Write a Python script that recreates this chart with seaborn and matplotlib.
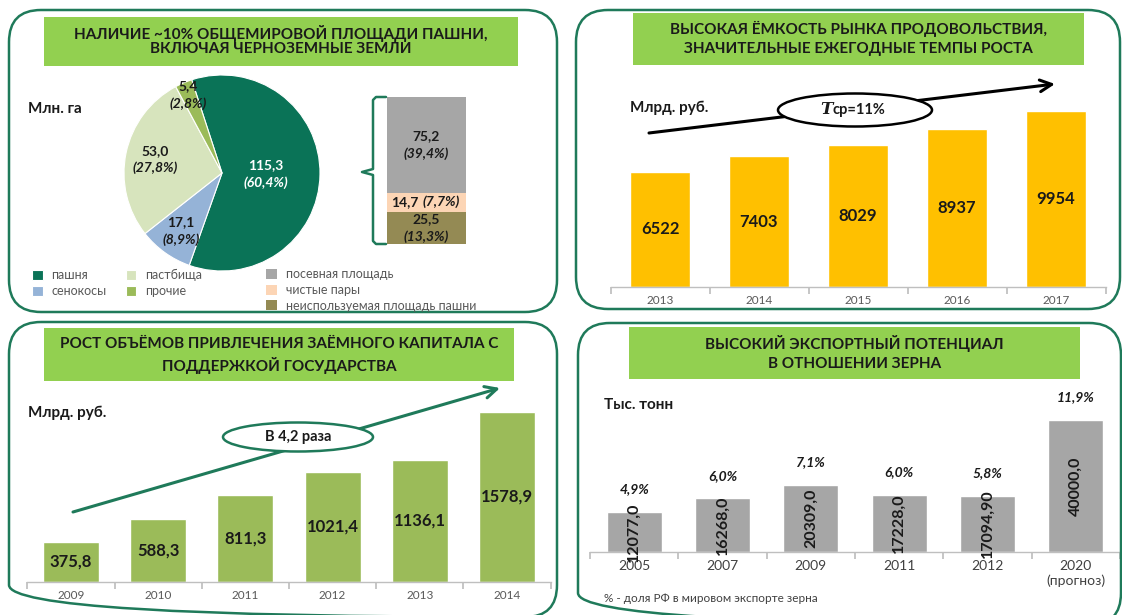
import numpy as np
import pandas as pd
import seaborn as sns
import matplotlib.pyplot as plt
from matplotlib.patches import FancyBboxPatch, Ellipse, Rectangle

# ---- data ----
land_labels = ['пашня', 'сенокосы', 'пастбища', 'прочие']
land_values = [115.3, 17.1, 53.0, 5.4]
land_pct = [60.4, 8.9, 27.8, 2.8]

arable_labels = ['неиспользуемая площадь пашни', 'чистые пары', 'посевная площадь']
arable_values = [25.5, 14.7, 75.2]
arable_pct = [13.3, 7.7, 39.4]

food_years = ['2013', '2014', '2015', '2016', '2017']
food_values = [6522, 7403, 8029, 8937, 9954]

credit_years = ['2009', '2010', '2011', '2012', '2013', '2014']
credit_values = [375.8, 588.3, 811.3, 1021.4, 1136.1, 1578.9]

grain_years = ['2005', '2007', '2009', '2011', '2012', '2020\n(прогноз)']
grain_values = [12077.0, 16268.0, 20309.0, 17228.0, 17094.9, 40000.0]
grain_labels = ['12077,0', '16268,0', '20309,0', '17228,0', '17094,90', '40000,0']
grain_share = [4.9, 6.0, 7.1, 6.0, 5.8, 11.9]

GREEN = '#1f7a5a'
TITLE_BG = '#92d050'
DARK = '#1a1a1a'
GREY_TXT = '#595959'

sns.set_theme(style='white')
plt.rcParams['font.family'] = ['Lato', 'DejaVu Sans']

W, H = 1122, 615
fig = plt.figure(figsize=(W / 100, H / 100), dpi=100)


def px_axes(x0, y0, x1, y1, **kw):
    return fig.add_axes([x0 / W, 1 - y1 / H, (x1 - x0) / W, (y1 - y0) / H], **kw)


def ru(v, d=1):
    return f'{v:.{d}f}'.replace('.', ',')


def bar_panel(box, cats, vals, color, ymax, width, tick_fs, tick_color):
    ax = px_axes(*box)
    df = pd.DataFrame({'cat': cats, 'val': vals})
    sns.barplot(data=df, x='cat', y='val', color=color, saturation=1,
                width=width, errorbar=None, ax=ax)
    ax.set_facecolor('none')
    ax.set_ylim(0, ymax)
    ax.set_xlim(-0.5, len(cats) - 0.5)
    for s in ['left', 'top', 'right']:
        ax.spines[s].set_visible(False)
    ax.spines['bottom'].set_color('#bfbfbf')
    ax.spines['bottom'].set_linewidth(1)
    ax.set_yticks([])
    ax.set_xticks(np.arange(-0.5, len(cats), 1))
    ax.set_xticklabels([])
    ax.set_xticks(range(len(cats)), minor=True)
    ax.set_xticklabels(cats, minor=True, fontsize=tick_fs, color=tick_color)
    ax.tick_params(axis='x', which='major', length=5, color='#bfbfbf', bottom=True)
    ax.tick_params(axis='x', which='minor', length=0, pad=6)
    ax.set_xlabel('')
    ax.set_ylabel('')
    return ax


# ---- top-right: food market ----
ax2 = bar_panel((610.5, 95, 1105.5, 287), food_years, food_values, '#ffc000',
                10860, 0.6, 8.5, GREY_TXT)
ax2.bar_label(ax2.containers[0], labels=[str(v) for v in food_values],
              label_type='center', fontsize=12, fontweight='bold', color=DARK)

# ---- bottom-left: credit ----
ax3 = bar_panel((27.4, 400, 550.6, 582), credit_years, credit_values, '#9bbb59',
                1690, 0.64, 8.5, GREY_TXT)
ax3.bar_label(ax3.containers[0], labels=[ru(v) for v in credit_values],
              label_type='center', fontsize=12, fontweight='bold', color=DARK)

# ---- bottom-right: grain export ----
ax4 = bar_panel((590, 400, 1120, 552), grain_years, grain_values, '#a6a6a6',
                46060, 0.62, 10, '#404040')
ax4.bar_label(ax4.containers[0], labels=grain_labels, label_type='center',
              rotation=90, fontsize=11.5, fontweight='bold', color=DARK)
ax4.bar_label(ax4.containers[0], labels=[ru(p) + '%' for p in grain_share],
              padding=12, fontsize=10, fontweight='bold', fontstyle='italic',
              color=DARK)

# ---- top-left: pie + stacked bar ----
land_colors = ['#0a7357', '#95b3d7', '#d7e4bd', '#9bbb59']
pie_ax = px_axes(124, 75, 320, 271)
wedges, _ = pie_ax.pie(land_values, colors=land_colors, startangle=108,
                       counterclock=False,
                       wedgeprops=dict(edgecolor='white', linewidth=0.8))
pie_ax.set_xlim(-1, 1)
pie_ax.set_ylim(-1, 1)
label_r = [0.45, 0.72, 0.7, 0.87]
label_c = ['white', DARK, DARK, DARK]
for w, v, p, r, c in zip(wedges, land_values, land_pct, label_r, label_c):
    ang = np.deg2rad((w.theta1 + w.theta2) / 2)
    xy = (r * np.cos(ang), r * np.sin(ang))
    pie_ax.annotate(ru(v), xy, xytext=(0, 6), textcoords='offset points',
                    ha='center', va='center', fontsize=10, fontweight='bold', color=c)
    pie_ax.annotate(f'({ru(p)}%)', xy, xytext=(0, -6.5), textcoords='offset points',
                    ha='center', va='center', fontsize=10, fontweight='bold',
                    fontstyle='italic', color=c)

arable_colors = ['#948a54', '#fcd5b5', '#a6a6a6']
st_ax = px_axes(387, 97, 466, 244)
bottom = 0
st_handles = []
for v, p, c in zip(arable_values, arable_pct, arable_colors):
    cont = st_ax.bar([0], [v], bottom=bottom, width=1, color=c, linewidth=0)
    st_handles.append(cont.patches[0])
    mid = bottom + v / 2
    if v > 20:
        st_ax.annotate(ru(v), (0, mid), xytext=(0, 6), textcoords='offset points',
                       ha='center', va='center', fontsize=10, fontweight='bold', color=DARK)
        st_ax.annotate(f'({ru(p)}%)', (0, mid), xytext=(0, -6.5), textcoords='offset points',
                       ha='center', va='center', fontsize=10, fontweight='bold',
                       fontstyle='italic', color=DARK)
    else:
        st_ax.annotate(ru(v), (0, mid), xytext=(-6, 0), textcoords='offset points',
                       ha='right', va='center', fontsize=10, fontweight='bold', color=DARK)
        st_ax.annotate(f'({ru(p)}%)', (0, mid), xytext=(-3, 0), textcoords='offset points',
                       ha='left', va='center', fontsize=10, fontweight='bold',
                       fontstyle='italic', color=DARK)
    bottom += v
st_ax.set_xlim(-0.5, 0.5)
st_ax.set_ylim(0, sum(arable_values))
st_ax.axis('off')

# ---- overlay: panels, titles, notes ----
ov = fig.add_axes([0, 0, 1, 1], zorder=10)
ov.set_xlim(0, W)
ov.set_ylim(H, 0)
ov.axis('off')
ov.patch.set_alpha(0)

for x0, y0, x1, y1 in [(9, 10, 557, 312), (576, 10, 1120, 309),
                       (9, 322, 557, 617), (578, 323, 1121, 625)]:
    ov.add_patch(FancyBboxPatch((x0, y0), x1 - x0, y1 - y0,
                                boxstyle='round,pad=0,rounding_size=32',
                                fc='none', ec=GREEN, lw=1.8))

titles = [
    ((44, 17, 518, 66), (33, 49), ['НАЛИЧИЕ ~10% ОБЩЕМИРОВОЙ ПЛОЩАДИ ПАШНИ,',
                                   'ВКЛЮЧАЯ ЧЕРНОЗЕМНЫЕ ЗЕМЛИ']),
    ((633, 13, 1084, 65), (29, 49), ['ВЫСОКАЯ ЁМКОСТЬ РЫНКА ПРОДОВОЛЬСТВИЯ,',
                                     'ЗНАЧИТЕЛЬНЫЕ ЕЖЕГОДНЫЕ ТЕМПЫ РОСТА']),
    ((44, 328, 514, 381), (344, 365), ['РОСТ ОБЪЁМОВ ПРИВЛЕЧЕНИЯ ЗАЁМНОГО КАПИТАЛА С',
                                       'ПОДДЕРЖКОЙ ГОСУДАРСТВА']),
    ((629, 327, 1080, 379), (343, 364), ['ВЫСОКИЙ ЭКСПОРТНЫЙ ПОТЕНЦИАЛ',
                                         'В ОТНОШЕНИИ ЗЕРНА']),
]
for (x0, y0, x1, y1), ys, lines in titles:
    ov.add_patch(Rectangle((x0, y0), x1 - x0, y1 - y0, fc=TITLE_BG, ec='none'))
    for yy, line in zip(ys, lines):
        ov.text((x0 + x1) / 2, yy, line, ha='center', va='center',
                fontsize=11, fontweight='bold', color=DARK)

ov.text(28, 109, 'Млн. га', ha='left', va='center', fontsize=11, fontweight='bold', color=DARK)
ov.text(630, 108, 'Млрд. руб.', ha='left', va='center', fontsize=11, fontweight='bold', color=DARK)
ov.text(28, 413, 'Млрд. руб.', ha='left', va='center', fontsize=11, fontweight='bold', color=DARK)
ov.text(604, 405, 'Тыс. тонн', ha='left', va='center', fontsize=11, fontweight='bold', color=DARK)
ov.text(604, 599, '% - доля РФ в мировом экспорте зерна', ha='left', va='center',
        fontsize=8.5, color='#404040')

# bracket next to the stacked bar
ov.plot([386, 376, 373, 373, 362, 373, 373, 376, 386],
        [97, 97, 100, 169, 172, 175, 241, 244, 244], color=GREEN, lw=1.8)

# legends
leg1 = ov.legend(wedges, land_labels, ncol=2, loc='upper left', bbox_to_anchor=(26, 263),
                 bbox_transform=ov.transData, frameon=False, fontsize=9,
                 handlelength=0.85, handleheight=0.85, handletextpad=0.7,
                 columnspacing=1.5, labelspacing=0.3, borderpad=0, labelcolor=GREY_TXT)
ov.add_artist(leg1)
ov.legend(st_handles[::-1], arable_labels[::-1], ncol=1, loc='upper left',
          bbox_to_anchor=(260, 262), bbox_transform=ov.transData,
          frameon=False, fontsize=9, handlelength=0.85, handleheight=0.85,
          handletextpad=0.7, labelspacing=0.3, borderpad=0, labelcolor=GREY_TXT)

# growth arrows with ellipses
ov.annotate('', xy=(1055, 84), xytext=(649, 133),
            arrowprops=dict(arrowstyle='->,head_length=0.7,head_width=0.35',
                            lw=2.2, color='black', shrinkA=0, shrinkB=0))
ov.add_patch(Ellipse((855, 110), 154, 33, fc='white', ec='black', lw=1.8, zorder=5))
ov.text(833, 110, 'T', ha='right', va='center', fontsize=12, fontweight='bold',
        fontstyle='italic', family='DejaVu Serif', color=DARK, zorder=6)
ov.text(833, 110, 'ср=11%', ha='left', va='center', fontsize=10.5,
        fontweight='bold', color=DARK, zorder=6)

ov.annotate('', xy=(500, 388), xytext=(73, 512),
            arrowprops=dict(arrowstyle='->,head_length=0.7,head_width=0.35',
                            lw=2.2, color=GREEN, shrinkA=0, shrinkB=0))
ov.add_patch(Ellipse((298, 437), 150, 29, fc='white', ec=GREEN, lw=1.8, zorder=5))
ov.text(298, 437, 'В 4,2 раза', ha='center', va='center', fontsize=10.5,
        fontweight='bold', color=DARK, zorder=6)

fig.savefig('out.png', dpi=100)
